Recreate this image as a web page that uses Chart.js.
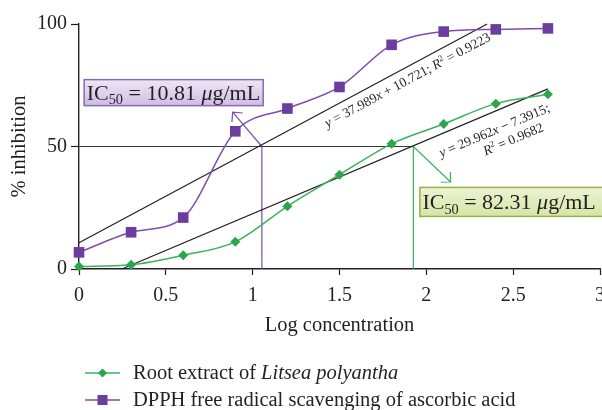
<!DOCTYPE html>
<html>
<head>
<meta charset="utf-8">
<script src="https://cdn.jsdelivr.net/npm/chart.js@4.4.1/dist/chart.umd.min.js"></script>
<style>
  html, body { margin: 0; padding: 0; background: #fff; }
  #wrap { width: 602px; height: 410px; }
</style>
</head>
<body>
<div id="wrap"><canvas id="chart" width="602" height="410"></canvas></div>
<script>
const logConc = [0, 0.3, 0.6, 0.9, 1.2, 1.5, 1.8, 2.1, 2.4, 2.7];
const rootExtract = [1, 1.7, 5.6, 11.1, 25.6, 38.5, 51.1, 59.2, 67.5, 71.3];
const ascorbicAcid = [6.8, 15, 21, 56.2, 65.5, 74.3, 91.5, 96.9, 97.8, 98.2];

const xTicks = [0, 0.5, 1, 1.5, 2, 2.5, 3];
const yTicks = [0, 50, 100];

// regression lines, endpoints
const ascorbicFitX = [0, 2.35];
const ascorbicFitY = [10.72, 100];
const rootFitX = [0.247, 2.7];
const rootFitY = [0, 73.5];

// IC50 guides
const ic50Level = 50;
const ascorbicIC50X = 1.053;
const rootIC50X = 1.925;
const ascorbicArrowTo = [0.885, 64];
const rootArrowTo = [2.14, 35.5];

const ascorbicIC50 = "10.81";
const rootIC50 = "82.31";

const PURPLE = "#6b3d9e";
const PURPLE_LINE = "#7a4fb0";
const GREEN = "#2aa64e";
const GREEN_LINE = "#3bb35c";
const INK = "#231f20";
const SERIF = "'Liberation Serif', 'DejaVu Serif', serif";
const FONT_SIZE = 20;

const pts = (xs, ys) => xs.map((v, i) => ({ x: v, y: ys[i] }));

// rich text: parts = [text, italic, "sub" | "sup" | undefined]
function richWidth(ctx, parts, size) {
  let w = 0;
  parts.forEach(([t, it, pos]) => {
    const s = pos ? size * 0.65 : size;
    ctx.font = `${it ? "italic " : ""}${s}px ${SERIF}`;
    w += ctx.measureText(t).width;
  });
  return w;
}

function drawRich(ctx, parts, size, x, y, align) {
  let cx = x;
  const w = richWidth(ctx, parts, size);
  if (align === "center") cx = x - w / 2;
  ctx.textAlign = "left";
  ctx.textBaseline = "alphabetic";
  parts.forEach(([t, it, pos]) => {
    const s = pos ? size * 0.65 : size;
    ctx.font = `${it ? "italic " : ""}${s}px ${SERIF}`;
    let dy = 0;
    if (pos === "sub") dy = size * 0.22;
    if (pos === "sup") dy = -size * 0.38;
    ctx.fillText(t, cx, y + dy);
    cx += ctx.measureText(t).width;
  });
}

function arrowHead(ctx, x0, y0, x1, y1, color) {
  const a = Math.atan2(y1 - y0, x1 - x0);
  const len = 10;
  ctx.save();
  ctx.strokeStyle = color;
  ctx.lineWidth = 1.2;
  ctx.beginPath();
  ctx.moveTo(x1 - len * Math.cos(a - Math.PI / 4), y1 - len * Math.sin(a - Math.PI / 4));
  ctx.lineTo(x1, y1);
  ctx.lineTo(x1 - len * Math.cos(a + Math.PI / 4), y1 - len * Math.sin(a + Math.PI / 4));
  ctx.stroke();
  ctx.restore();
}

function ic50Box(ctx, left, top, w, h, value, fillTop, fillBottom, border) {
  const g = ctx.createLinearGradient(0, top, 0, top + h);
  g.addColorStop(0, fillTop);
  g.addColorStop(1, fillBottom);
  ctx.fillStyle = g;
  ctx.fillRect(left, top, w, h);
  ctx.strokeStyle = border;
  ctx.lineWidth = 1.5;
  ctx.strokeRect(left + 0.5, top + 0.5, w - 1, h - 1);
  ctx.fillStyle = INK;
  drawRich(ctx, [["IC", false], ["50", false, "sub"], [" = " + value + " ", false], ["\u03bc", true], ["g/mL", false]],
    22, left + 3, top + h / 2 + 7, "left");
}

function equation(ctx, xs, ys, ax, lines, x, y) {
  const p0 = { x: x.getPixelForValue(xs[0]), y: y.getPixelForValue(ys[0]) };
  const p1 = { x: x.getPixelForValue(xs[1]), y: y.getPixelForValue(ys[1]) };
  const t = (ax - xs[0]) / (xs[1] - xs[0]);
  const ay = ys[0] + t * (ys[1] - ys[0]);
  ctx.save();
  ctx.translate(x.getPixelForValue(ax), y.getPixelForValue(ay));
  ctx.rotate(Math.atan2(p1.y - p0.y, p1.x - p0.x));
  ctx.fillStyle = INK;
  lines.forEach(([parts, dx, dy]) => drawRich(ctx, parts, 13.5, dx, dy + 4, "center"));
  ctx.restore();
}

const annotations = {
  id: "annotations",
  afterDatasetsDraw(chart) {
    const { ctx, scales: { x, y } } = chart;
    ctx.save();
    arrowHead(ctx, x.getPixelForValue(ascorbicIC50X), y.getPixelForValue(ic50Level),
      x.getPixelForValue(ascorbicArrowTo[0]), y.getPixelForValue(ascorbicArrowTo[1]), PURPLE_LINE);
    arrowHead(ctx, x.getPixelForValue(rootIC50X), y.getPixelForValue(ic50Level),
      x.getPixelForValue(rootArrowTo[0]), y.getPixelForValue(rootArrowTo[1]), GREEN_LINE);

    equation(ctx, ascorbicFitX, ascorbicFitY, 1.885, [
      [[["y", true], [" = 37.989", false], ["x", true], [" + 10.721; ", false], ["R", true], ["2", false, "sup"], [" = 0.9223", false]], -5, 12]
    ], x, y);
    equation(ctx, rootFitX, rootFitY, 2.385, [
      [[["y", true], [" = 29.962", false], ["x", true], [" \u2212 7.3915;", false]], -6, 17.5],
      [[["R", true], ["2", false, "sup"], [" = 0.9682", false]], 8, 33]
    ], x, y);

    ic50Box(ctx, x.getPixelForValue(0.027), y.getPixelForValue(77.5), 180, 27, ascorbicIC50,
      "#eee8f5", "#cdbde3", "#8a6bb4");
    ic50Box(ctx, x.getPixelForValue(1.96), y.getPixelForValue(33.5), 184, 30, rootIC50,
      "#eef3d6", "#d6e4a4", "#93b347");
    ctx.restore();
  },
  afterDraw(chart) {
    const { ctx } = chart;
    ctx.save();
    const rows = [
      { y: 373, color: GREEN_LINE, mark: GREEN, style: "diamond",
        parts: [["Root extract of ", false], ["Litsea polyantha", true]] },
      { y: 400, color: PURPLE_LINE, mark: PURPLE, style: "square",
        parts: [["DPPH free radical scavenging of ascorbic acid", false]] }
    ];
    rows.forEach(r => {
      ctx.strokeStyle = r.color;
      ctx.lineWidth = 1.5;
      ctx.beginPath();
      ctx.moveTo(85, r.y);
      ctx.lineTo(120, r.y);
      ctx.stroke();
      ctx.fillStyle = r.mark;
      ctx.beginPath();
      if (r.style === "diamond") {
        ctx.moveTo(102.5, r.y - 4.5); ctx.lineTo(107, r.y); ctx.lineTo(102.5, r.y + 4.5); ctx.lineTo(98, r.y);
      } else {
        ctx.rect(97.5, r.y - 5, 10, 10);
      }
      ctx.fill();
      ctx.fillStyle = INK;
      drawRich(ctx, r.parts, 20.5, 133, r.y + 6, "left");
    });
    ctx.restore();
  }
};

const guide = (data, color, width) => ({
  data, borderColor: color, borderWidth: width, pointRadius: 0, showLine: true, tension: 0, fill: false
});

new Chart(document.getElementById("chart"), {
  type: "scatter",
  data: {
    datasets: [
      {
        label: "Root extract of Litsea polyantha",
        data: pts(logConc, rootExtract),
        showLine: true,
        borderColor: GREEN_LINE,
        borderWidth: 1.5,
        backgroundColor: GREEN,
        pointStyle: "rectRot",
        pointRadius: 5,
        pointBorderWidth: 0,
        cubicInterpolationMode: "monotone"
      },
      {
        label: "DPPH free radical scavenging of ascorbic acid",
        data: pts(logConc, ascorbicAcid),
        showLine: true,
        borderColor: PURPLE_LINE,
        borderWidth: 1.5,
        backgroundColor: PURPLE,
        pointStyle: "rect",
        pointRadius: 7.5,
        pointBorderWidth: 0,
        cubicInterpolationMode: "monotone"
      },
      guide(pts(ascorbicFitX, ascorbicFitY), INK, 1.2),
      guide(pts(rootFitX, rootFitY), INK, 1.2),
      guide([{ x: 0, y: ic50Level }, { x: rootIC50X, y: ic50Level }], "#3a3a3a", 1.2),
      guide([{ x: ascorbicIC50X, y: ic50Level }, { x: ascorbicIC50X, y: 0 }], PURPLE_LINE, 1.2),
      guide([{ x: rootIC50X, y: ic50Level }, { x: rootIC50X, y: 0 }], GREEN_LINE, 1.2),
      guide([{ x: ascorbicIC50X, y: ic50Level }, { x: ascorbicArrowTo[0], y: ascorbicArrowTo[1] }], PURPLE_LINE, 1.2),
      guide([{ x: rootIC50X, y: ic50Level }, { x: rootArrowTo[0], y: rootArrowTo[1] }], GREEN_LINE, 1.2)
    ]
  },
  options: {
    responsive: false,
    animation: false,
    clip: false,
    layout: { autoPadding: false, padding: { top: 24, right: 2, bottom: 65, left: 0 } },
    plugins: {
      legend: { display: false },
      tooltip: { enabled: false }
    },
    scales: {
      x: {
        type: "linear",
        min: 0,
        max: 3,
        afterBuildTicks: (s) => { s.ticks = xTicks.map(v => ({ value: v })); },
        afterFit: (s) => { s.height = 76; s.paddingLeft = 0; s.paddingRight = 0; },
        ticks: {
          color: INK,
          padding: 9,
          font: { family: SERIF, size: FONT_SIZE },
          callback: (v) => String(v)
        },
        grid: { drawOnChartArea: false, tickLength: 6, color: INK, tickWidth: 1.2 },
        border: { color: INK, width: 1.4 },
        title: {
          display: true,
          text: "Log concentration",
          color: INK,
          font: { family: SERIF, size: 20.5 },
          padding: { top: 0, bottom: 7 }
        }
      },
      y: {
        min: 0,
        max: 100,
        afterBuildTicks: (s) => { s.ticks = yTicks.map(v => ({ value: v })); },
        afterFit: (s) => { s.width = 79; s.paddingTop = 0; s.paddingBottom = 0; },
        ticks: {
          color: INK,
          padding: 4,
          font: { family: SERIF, size: FONT_SIZE }
        },
        grid: { drawOnChartArea: false, tickLength: 8, color: INK, tickWidth: 1.2 },
        border: { color: INK, width: 1.4 },
        title: {
          display: true,
          text: "% inhibition",
          color: INK,
          font: { family: SERIF, size: 20.5 },
          padding: { top: 7, bottom: 0 }
        }
      }
    }
  },
  plugins: [annotations]
});
</script>
</body>
</html>
